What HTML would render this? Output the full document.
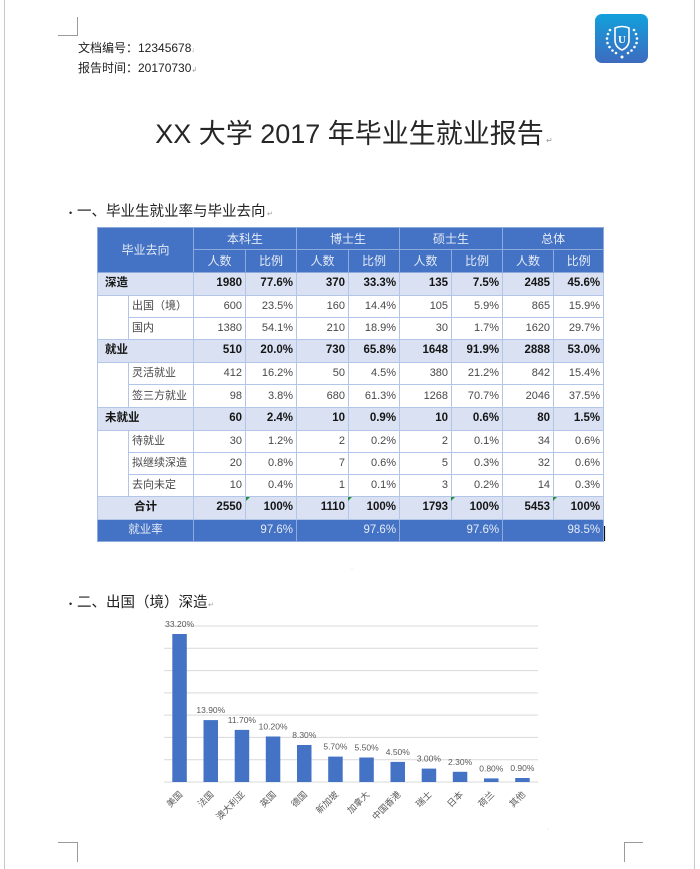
<!DOCTYPE html>
<html><head><meta charset="utf-8">
<style>
html,body{margin:0;padding:0;background:#fff;}
body{width:700px;height:869px;position:relative;overflow:hidden;font-family:"Liberation Sans","Noto Sans CJK SC",sans-serif;}
svg.ov{position:absolute;left:0;top:0;}
table{position:absolute;left:97px;top:227px;width:506px;border-collapse:collapse;table-layout:fixed;font-family:"Liberation Sans","Noto Sans CJK SC",sans-serif;font-size:11px;}
td{border:1px solid #b4c6e7;padding:0 3px;overflow:hidden;white-space:nowrap;line-height:1;}
tr.h td{background:#4472c4;color:#e6ecf7;text-align:center;border-color:#8eaadb;font-size:12px;}
tr.c td{background:#d9e1f2;font-weight:bold;color:#151515;text-align:right;font-size:11.5px;}
tr.s td{background:#fff;color:#484848;text-align:right;}
td.lab{text-align:left !important;}
tr.c td.lab{padding-left:7px;}
td.ctr{text-align:center !important;}
tr.r td{background:#4472c4;color:#e6ecf7;text-align:right;border-color:#8eaadb;font-size:11.5px;}
.tri{position:absolute;width:0;height:0;border-top:4px solid #1f8f3a;border-right:4px solid transparent;}
</style></head>
<body>
<svg class="ov" width="700" height="869" xmlns="http://www.w3.org/2000/svg">
  <defs>
    <linearGradient id="lg" x1="0" y1="0" x2="0" y2="1">
      <stop offset="0" stop-color="#12a0dc"/>
      <stop offset="1" stop-color="#3d6bbf"/>
    </linearGradient>
  </defs>
  <!-- page edges -->
  <line x1="4.5" y1="0" x2="4.5" y2="869" stroke="#c8c8c8" stroke-width="1"/>
  <line x1="694.5" y1="0" x2="694.5" y2="869" stroke="#c8c8c8" stroke-width="1"/>
  <!-- corner marks -->
  <path d="M77.5 17 V35.5 H58" fill="none" stroke="#9a9a9a" stroke-width="1"/>
  <path d="M58 842.5 H77.5 V862" fill="none" stroke="#9a9a9a" stroke-width="1"/>
  <path d="M643 842.5 H624.5 V862" fill="none" stroke="#9a9a9a" stroke-width="1"/>
  <!-- logo -->
  <rect x="595" y="14" width="53" height="49" rx="7" fill="url(#lg)"/>
  <path d="M615 28 Q622 25 629 28 V40 Q629 47 622 50 Q615 47 615 40 Z" fill="none" stroke="#fff" stroke-width="1.6"/>
  <text x="622" y="43" font-family="Liberation Serif,serif" font-size="11" font-weight="bold" fill="#fff" text-anchor="middle">U</text>
  <g fill="#fff">
    <circle cx="610" cy="30" r="1.3"/><circle cx="608" cy="34" r="1.3"/><circle cx="607" cy="38.5" r="1.3"/><circle cx="607.5" cy="43" r="1.3"/><circle cx="609.5" cy="47" r="1.3"/><circle cx="612.5" cy="50.5" r="1.3"/><circle cx="616" cy="53" r="1.3"/>
    <circle cx="634" cy="30" r="1.3"/><circle cx="636" cy="34" r="1.3"/><circle cx="637" cy="38.5" r="1.3"/><circle cx="636.5" cy="43" r="1.3"/><circle cx="634.5" cy="47" r="1.3"/><circle cx="631.5" cy="50.5" r="1.3"/><circle cx="628" cy="53" r="1.3"/>
    <circle cx="622" cy="57" r="1.5"/>
  </g>
  <!-- header text -->
  <text x="78" y="52" font-size="12" fill="#222" font-family="Liberation Sans,Noto Sans CJK SC,sans-serif">文档编号：12345678<tspan font-size="7" fill="#999">↓</tspan></text>
  <text x="78" y="72" font-size="12" fill="#222" font-family="Liberation Sans,Noto Sans CJK SC,sans-serif">报告时间：20170730<tspan font-size="7" fill="#999">↲</tspan></text>
  <!-- title -->
  <text x="349.5" y="143" font-size="27" fill="#262626" text-anchor="middle" font-family="Liberation Sans,Noto Sans CJK SC,sans-serif">XX 大学 2017 年毕业生就业报告</text>
  <text x="546" y="143" font-size="8" fill="#999">↵</text>
  <!-- section headings -->
  <text x="69" y="216" font-size="9" fill="#222">•</text>
  <text x="77" y="216" font-size="14.5" fill="#222" font-family="Liberation Sans,Noto Sans CJK SC,sans-serif">一、毕业生就业率与毕业去向</text>
  <text x="267" y="216" font-size="7" fill="#999">↵</text>
  <text x="69" y="607" font-size="9" fill="#222">•</text>
  <text x="77" y="607" font-size="14.5" fill="#222" font-family="Liberation Sans,Noto Sans CJK SC,sans-serif">二、出国（境）深造</text>
  <text x="208" y="607" font-size="7" fill="#999">↵</text>
  <text x="351" y="568" font-size="6" fill="#999">ˌ</text>
  <text x="547" y="828" font-size="6" fill="#999">ˌ</text>
  <!-- cursor -->
  <line x1="604.5" y1="526" x2="604.5" y2="541" stroke="#111" stroke-width="1.2"/>

  <!-- chart gridlines -->
  <g stroke="#d9d9d9" stroke-width="1">
    <line x1="164" y1="626" x2="538" y2="626"/>
    <line x1="164" y1="648.3" x2="538" y2="648.3"/>
    <line x1="164" y1="670.6" x2="538" y2="670.6"/>
    <line x1="164" y1="692.9" x2="538" y2="692.9"/>
    <line x1="164" y1="715.1" x2="538" y2="715.1"/>
    <line x1="164" y1="737.4" x2="538" y2="737.4"/>
    <line x1="164" y1="759.7" x2="538" y2="759.7"/>
    <line x1="164" y1="782" x2="538" y2="782"/>
  </g>
  <!-- bars -->
  <g fill="#4472c4">
    <rect x="172.3" y="634.0" width="14.5" height="148.0"/>
    <rect x="203.5" y="720.1" width="14.5" height="61.9"/>
    <rect x="234.7" y="729.9" width="14.5" height="52.1"/>
    <rect x="265.8" y="736.5" width="14.5" height="45.5"/>
    <rect x="297.0" y="745.0" width="14.5" height="37.0"/>
    <rect x="328.2" y="756.6" width="14.5" height="25.4"/>
    <rect x="359.3" y="757.5" width="14.5" height="24.5"/>
    <rect x="390.5" y="761.9" width="14.5" height="20.1"/>
    <rect x="421.7" y="768.6" width="14.5" height="13.4"/>
    <rect x="452.8" y="771.8" width="14.5" height="10.2"/>
    <rect x="484.0" y="778.4" width="14.5" height="3.6"/>
    <rect x="515.2" y="778.0" width="14.5" height="4.0"/>
  </g>
  <!-- data labels -->
  <g font-size="8.5" fill="#595959" text-anchor="middle" font-family="Liberation Sans,sans-serif">
    <text x="179.6" y="627">33.20%</text>
    <text x="210.8" y="713">13.90%</text>
    <text x="241.9" y="723">11.70%</text>
    <text x="273.1" y="729.5">10.20%</text>
    <text x="304.3" y="738">8.30%</text>
    <text x="335.4" y="749.5">5.70%</text>
    <text x="366.6" y="750.5">5.50%</text>
    <text x="397.8" y="755">4.50%</text>
    <text x="428.9" y="761.5">3.00%</text>
    <text x="460.1" y="765">2.30%</text>
    <text x="491.3" y="771.5">0.80%</text>
    <text x="522.4" y="771">0.90%</text>
  </g>
  <!-- category labels -->
  <g font-size="9" fill="#595959" text-anchor="end" font-family="Liberation Sans,Noto Sans CJK SC,sans-serif">
    <text transform="translate(183.1,795) rotate(-45)">美国</text>
    <text transform="translate(214.3,795) rotate(-45)">法国</text>
    <text transform="translate(245.4,795) rotate(-45)">澳大利亚</text>
    <text transform="translate(276.6,795) rotate(-45)">英国</text>
    <text transform="translate(307.8,795) rotate(-45)">德国</text>
    <text transform="translate(338.9,795) rotate(-45)">新加坡</text>
    <text transform="translate(370.1,795) rotate(-45)">加拿大</text>
    <text transform="translate(401.3,795) rotate(-45)">中国香港</text>
    <text transform="translate(432.4,795) rotate(-45)">瑞士</text>
    <text transform="translate(463.6,795) rotate(-45)">日本</text>
    <text transform="translate(494.8,795) rotate(-45)">荷兰</text>
    <text transform="translate(525.9,795) rotate(-45)">其他</text>
  </g>
</svg>

<table>
<colgroup>
<col style="width:31px"><col style="width:65px"><col style="width:52px"><col style="width:51px"><col style="width:52px"><col style="width:51px"><col style="width:52px"><col style="width:51px"><col style="width:51px"><col style="width:50px">
</colgroup>
<tr class="h" style="height:22px"><td colspan="2" rowspan="2">毕业去向</td><td colspan="2">本科生</td><td colspan="2">博士生</td><td colspan="2">硕士生</td><td colspan="2">总体</td></tr>
<tr class="h" style="height:23px"><td>人数</td><td>比例</td><td>人数</td><td>比例</td><td>人数</td><td>比例</td><td>人数</td><td>比例</td></tr>
<tr class="c" style="height:23px"><td colspan="2" class="lab">深造</td><td>1980</td><td>77.6%</td><td>370</td><td>33.3%</td><td>135</td><td>7.5%</td><td>2485</td><td>45.6%</td></tr>
<tr class="s" style="height:22px"><td rowspan="2"></td><td class="lab">出国（境）</td><td>600</td><td>23.5%</td><td>160</td><td>14.4%</td><td>105</td><td>5.9%</td><td>865</td><td>15.9%</td></tr>
<tr class="s" style="height:22px"><td class="lab">国内</td><td>1380</td><td>54.1%</td><td>210</td><td>18.9%</td><td>30</td><td>1.7%</td><td>1620</td><td>29.7%</td></tr>
<tr class="c" style="height:23px"><td colspan="2" class="lab">就业</td><td>510</td><td>20.0%</td><td>730</td><td>65.8%</td><td>1648</td><td>91.9%</td><td>2888</td><td>53.0%</td></tr>
<tr class="s" style="height:22px"><td rowspan="2"></td><td class="lab">灵活就业</td><td>412</td><td>16.2%</td><td>50</td><td>4.5%</td><td>380</td><td>21.2%</td><td>842</td><td>15.4%</td></tr>
<tr class="s" style="height:23px"><td class="lab">签三方就业</td><td>98</td><td>3.8%</td><td>680</td><td>61.3%</td><td>1268</td><td>70.7%</td><td>2046</td><td>37.5%</td></tr>
<tr class="c" style="height:23px"><td colspan="2" class="lab">未就业</td><td>60</td><td>2.4%</td><td>10</td><td>0.9%</td><td>10</td><td>0.6%</td><td>80</td><td>1.5%</td></tr>
<tr class="s" style="height:22px"><td rowspan="3"></td><td class="lab">待就业</td><td>30</td><td>1.2%</td><td>2</td><td>0.2%</td><td>2</td><td>0.1%</td><td>34</td><td>0.6%</td></tr>
<tr class="s" style="height:22px"><td class="lab">拟继续深造</td><td>20</td><td>0.8%</td><td>7</td><td>0.6%</td><td>5</td><td>0.3%</td><td>32</td><td>0.6%</td></tr>
<tr class="s" style="height:22px"><td class="lab">去向未定</td><td>10</td><td>0.4%</td><td>1</td><td>0.1%</td><td>3</td><td>0.2%</td><td>14</td><td>0.3%</td></tr>
<tr class="c" style="height:23px"><td colspan="2" class="ctr">合计</td><td>2550</td><td>100%</td><td>1110</td><td>100%</td><td>1793</td><td>100%</td><td>5453</td><td>100%</td></tr>
<tr class="r" style="height:22px"><td colspan="2" class="ctr">就业率</td><td colspan="2">97.6%</td><td colspan="2">97.6%</td><td colspan="2">97.6%</td><td colspan="2">98.5%</td></tr>
</table>
<div class="tri" style="left:246px;top:497px"></div>
<div class="tri" style="left:348px;top:497px"></div>
<div class="tri" style="left:451px;top:497px"></div>
<div class="tri" style="left:553px;top:497px"></div>
</body></html>
